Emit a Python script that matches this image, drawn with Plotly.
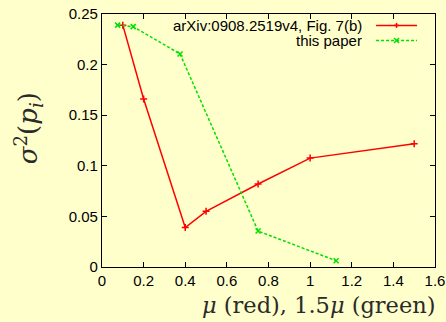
import plotly.graph_objects as go

# Data
red_x = [0.1, 0.2, 0.4, 0.5, 0.75, 1.0, 1.5]
red_y = [0.239, 0.166, 0.039, 0.055, 0.082, 0.1076, 0.1217]
green_x = [0.075, 0.15, 0.375, 0.75, 1.125]
green_y = [0.239, 0.2375, 0.2105, 0.0355, 0.0062]

x_ticks = [0, 0.2, 0.4, 0.6, 0.8, 1.0, 1.2, 1.4, 1.6]
x_ticklabels = ["0", "0.2", "0.4", "0.6", "0.8", "1", "1.2", "1.4", "1.6"]
y_ticks = [0, 0.05, 0.1, 0.15, 0.2, 0.25]
y_ticklabels = ["0", "0.05", "0.1", "0.15", "0.2", "0.25"]

legend_labels = ["arXiv:0908.2519v4, Fig. 7(b)", "this paper"]

RED = "#FF0000"
GREEN = "#00E000"
BG = "#FFFFCC"
SANS = "Liberation Sans, Arial, sans-serif"
SERIF = "DejaVu Serif, serif"

fig = go.Figure()
fig.add_trace(go.Scatter(
    x=red_x, y=red_y, mode="lines+markers",
    line=dict(color=RED, width=1.5),
    marker=dict(symbol="cross-thin", size=5, line=dict(color=RED, width=1.5)),
    showlegend=False))
fig.add_trace(go.Scatter(
    x=green_x, y=green_y, mode="lines+markers",
    line=dict(color=GREEN, width=1.5, dash="3px,2px"),
    marker=dict(symbol="x-thin", size=5, line=dict(color=GREEN, width=1.5)),
    showlegend=False))

axis_common = dict(
    showgrid=False, zeroline=False, showline=True, linecolor="black", linewidth=1.2,
    mirror="allticks", ticks="inside", ticklen=5, tickwidth=1, tickcolor="black",
    tickfont=dict(family=SANS, size=15, color="black"), automargin=False,
)
fig.update_xaxes(range=[0, 1.6], tickvals=x_ticks, ticktext=x_ticklabels, **axis_common)
fig.update_yaxes(range=[0, 0.25], tickvals=y_ticks, ticktext=y_ticklabels, **axis_common)

# custom gnuplot-style legend (text right, sample to the right)
leg_y = [0.955, 0.895]
leg_colors = [RED, GREEN]
leg_dash = ["solid", "3px,2px"]
annotations = []
shapes = []
for i, lab in enumerate(legend_labels):
    annotations.append(dict(x=0.786, y=leg_y[i], xref="paper", yref="paper", text=lab,
                            showarrow=False, xanchor="right", yanchor="middle",
                            font=dict(family=SANS, size=15, color="black")))
    shapes.append(dict(type="line", xref="paper", yref="paper", x0=0.823, x1=0.946,
                       y0=leg_y[i], y1=leg_y[i], line=dict(color=leg_colors[i], width=1.5, dash=leg_dash[i])))
# legend sample markers
cx = 0.8845
dx = 2.5 / 333.3
dy = 2.5 / 253.3
shapes.append(dict(type="line", xref="paper", yref="paper", x0=cx - dx, x1=cx + dx,
                   y0=leg_y[0], y1=leg_y[0], line=dict(color=RED, width=1.5)))
shapes.append(dict(type="line", xref="paper", yref="paper", x0=cx, x1=cx,
                   y0=leg_y[0] - dy, y1=leg_y[0] + dy, line=dict(color=RED, width=1.5)))
shapes.append(dict(type="line", xref="paper", yref="paper", x0=cx - dx, x1=cx + dx,
                   y0=leg_y[1] - dy, y1=leg_y[1] + dy, line=dict(color=GREEN, width=1.5)))
shapes.append(dict(type="line", xref="paper", yref="paper", x0=cx - dx, x1=cx + dx,
                   y0=leg_y[1] + dy, y1=leg_y[1] - dy, line=dict(color=GREEN, width=1.5)))

# axis titles
annotations.append(dict(x=-0.221, y=0.55, xref="paper", yref="paper",
                        text="<i>σ</i><sup>2</sup>(<i>p<sub>i</sub></i>)", textangle=-90,
                        showarrow=False, xanchor="center", yanchor="middle",
                        font=dict(family=SERIF, size=26, color="#2a2a2a")))
annotations.append(dict(x=0.651, y=-0.149, xref="paper", yref="paper",
                        text="<i>μ</i> (red), 1.5<i>μ</i> (green)",
                        showarrow=False, xanchor="center", yanchor="middle",
                        font=dict(family=SERIF, size=22.5, color="#2a2a2a")))

fig.update_layout(
    width=446, height=322, autosize=False,
    margin=dict(l=102, r=11, t=14, b=55, pad=0),
    paper_bgcolor=BG, plot_bgcolor=BG,
    annotations=annotations, shapes=shapes,
)

fig.write_html("out.html", config={"displayModeBar": False},
               post_script="document.body.style.margin='0';document.body.style.overflow='hidden';"
                           "document.documentElement.style.background='%s';" % BG)
